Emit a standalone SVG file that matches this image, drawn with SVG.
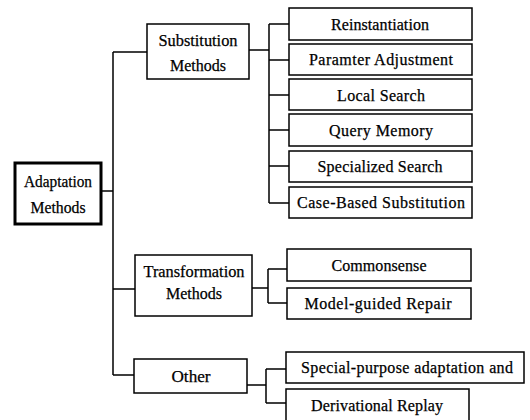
<svg xmlns="http://www.w3.org/2000/svg" width="530" height="420" viewBox="0 0 530 420">
<style>
rect{fill:#fff;stroke:#000;stroke-width:1.5}
rect.root{stroke-width:3}
.conn path{fill:none;stroke:#000;stroke-width:1.5}
text{font-family:"Liberation Serif","Times New Roman",serif;font-size:16px;fill:#000;stroke:#000;stroke-width:0.25;text-anchor:middle}
</style>
<rect x="0" y="0" width="530" height="420" style="stroke:none;fill:#fff"/>
<g class="conn">
<path d="M101 191H113M113 52V375M113 52H147M113 289H135M113 375H134"/>
<path d="M249 50H269M269 24V203M269 24H289M269 60H289M269 95H289M269 130H289M269 166H289M269 203H289"/>
<path d="M252 288H268M268 269V303M268 269H287M268 303H287"/>
<path d="M247 385H266M266 369V403M266 369H286M266 403H286"/>
</g>
<g id="adaptation"><rect class="root" x="15" y="163" width="86" height="61"/><text x="58" y="187" textLength="68" lengthAdjust="spacingAndGlyphs">Adaptation</text><text x="58" y="213" textLength="55" lengthAdjust="spacingAndGlyphs">Methods</text></g>
<g id="substitution"><rect x="147" y="24" width="102" height="55"/><text x="198" y="46" textLength="79" lengthAdjust="spacingAndGlyphs">Substitution</text><text x="198" y="71" textLength="56" lengthAdjust="spacingAndGlyphs">Methods</text></g>
<g id="transformation"><rect x="135" y="255" width="117" height="61"/><text x="194" y="277" textLength="101" lengthAdjust="spacingAndGlyphs">Transformation</text><text x="194" y="299" textLength="56" lengthAdjust="spacingAndGlyphs">Methods</text></g>
<g id="other"><rect x="134" y="359" width="113" height="34"/><text x="191" y="382" textLength="39" lengthAdjust="spacingAndGlyphs">Other</text></g>
<g id="reinstantiation"><rect x="289" y="8" width="183" height="32"/><text x="380" y="30" textLength="98" lengthAdjust="spacing">Reinstantiation</text></g>
<g id="paramter"><rect x="289" y="44" width="183" height="31"/><text x="381" y="65" textLength="144" lengthAdjust="spacing">Paramter Adjustment</text></g>
<g id="local"><rect x="289" y="79" width="183" height="31"/><text x="381" y="101" textLength="88" lengthAdjust="spacing">Local Search</text></g>
<g id="query"><rect x="289" y="114" width="183" height="32"/><text x="381" y="136" textLength="104" lengthAdjust="spacing">Query Memory</text></g>
<g id="specialized"><rect x="289" y="151" width="183" height="31"/><text x="380" y="172" textLength="125" lengthAdjust="spacing">Specialized Search</text></g>
<g id="casebased"><rect x="289" y="187" width="183" height="31"/><text x="381" y="208" textLength="168" lengthAdjust="spacing">Case-Based Substitution</text></g>
<g id="commonsense"><rect x="287" y="249" width="184" height="32"/><text x="379" y="271" textLength="95" lengthAdjust="spacing">Commonsense</text></g>
<g id="modelguided"><rect x="287" y="288" width="184" height="31"/><text x="378" y="309" textLength="147" lengthAdjust="spacing">Model-guided Repair</text></g>
<g id="specialpurpose"><rect x="286" y="352" width="238" height="31"/><text x="407" y="373" textLength="212" lengthAdjust="spacing">Special-purpose adaptation and</text></g>
<g id="derivational"><rect x="286" y="389" width="183" height="36"/><text x="377" y="411" textLength="132" lengthAdjust="spacing">Derivational Replay</text></g>
</svg>
